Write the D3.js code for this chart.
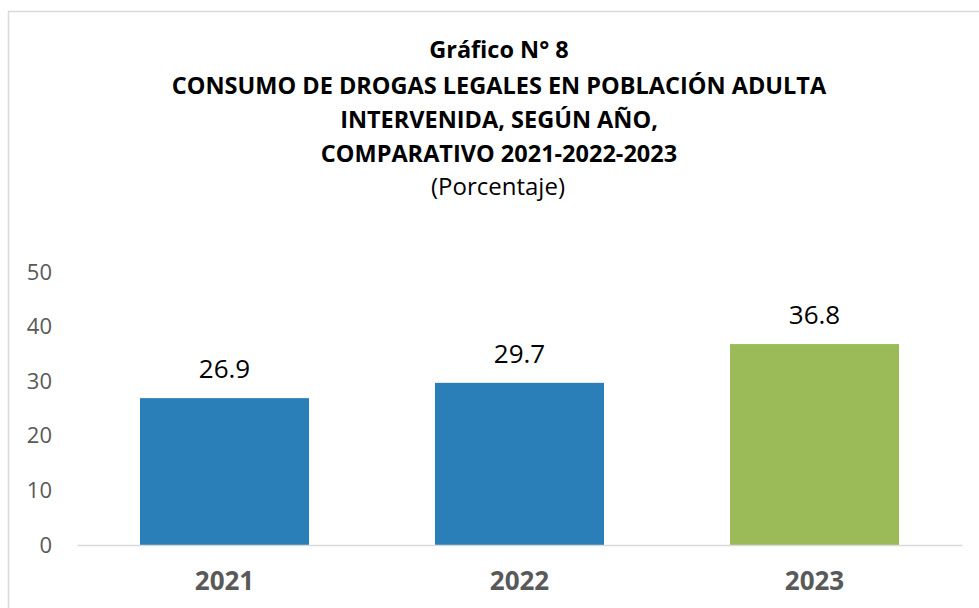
<!DOCTYPE html>
<meta charset="utf-8">
<style>
  body { margin: 0; background: #fff; }
  svg { display: block; font-family: "Open Sans", Lato, sans-serif; }
</style>
<body>
<svg width="979" height="608"></svg>
<script src="https://d3js.org/d3.v7.min.js"></script>
<script>

var years = ["2021", "2022", "2023"];
var values = [26.9, 29.7, 36.8];
var barColors = ["#2b7fb8", "#2b7fb8", "#9bbb59"];
var yTicks = [0, 10, 20, 30, 40, 50];
var titleLines = [
  "Gráfico N° 8",
  "CONSUMO DE DROGAS LEGALES EN POBLACIÓN ADULTA",
  "INTERVENIDA, SEGÚN AÑO,",
  "COMPARATIVO 2021-2022-2023"
];
var subtitle = "(Porcentaje)";

var svg = d3.select("svg"),
    width = +svg.attr("width"),
    height = +svg.attr("height");

// chart frame (right/bottom edges fall outside the picture)
svg.append("rect")
    .attr("x", 8.5).attr("y", 11.5)
    .attr("width", 1000).attr("height", 700)
    .attr("fill", "none")
    .attr("stroke", "#d9d9d9")
    .attr("stroke-width", 1.5);

var x = d3.scaleBand()
    .domain(years)
    .range([77, 962])
    .paddingInner(0.427)
    .paddingOuter(0.2135);

var y = d3.scaleLinear()
    .domain([0, 50])
    .range([545, 272]);

// title
var title = svg.append("g").attr("text-anchor", "middle");
var baselines = [58, 94, 128, 162];
titleLines.forEach(function(t, i) {
  title.append("text")
      .attr("x", 499).attr("y", baselines[i])
      .attr("font-size", 23.5).attr("font-weight", "bold")
      .attr("fill", "#000")
      .text(t);
});
title.append("text")
    .attr("x", 498).attr("y", 195)
    .attr("font-size", 24)
    .attr("fill", "#000")
    .text(subtitle);

// y axis labels
var yAxis = svg.append("g")
    .attr("transform", "translate(52,0)")
    .call(d3.axisLeft(y).tickValues(yTicks).tickSize(0).tickPadding(0));
yAxis.select(".domain").remove();
yAxis.selectAll("text")
    .attr("font-family", "'Open Sans', Lato, sans-serif")
    .attr("font-size", 22)
    .attr("fill", "#595959");

// bars
svg.append("g").selectAll("rect")
  .data(values)
  .enter().append("rect")
    .attr("x", function(d, i) { return x(years[i]); })
    .attr("y", function(d) { return y(d); })
    .attr("width", x.bandwidth())
    .attr("height", function(d) { return y(0) - y(d); })
    .attr("fill", function(d, i) { return barColors[i]; });

// x axis
var xAxis = svg.append("g")
    .attr("transform", "translate(0," + y(0) + ")")
    .call(d3.axisBottom(x).tickSize(0).tickPadding(27));
xAxis.select(".domain")
    .attr("stroke", "#d9d9d9")
    .attr("stroke-width", 1.5);
xAxis.selectAll("text")
    .attr("font-family", "'Open Sans', Lato, sans-serif")
    .attr("font-size", 26)
    .attr("font-weight", "bold")
    .attr("fill", "#595959");

// value labels
svg.append("g").selectAll("text")
  .data(values)
  .enter().append("text")
    .attr("x", function(d, i) { return x(years[i]) + x.bandwidth() / 2; })
    .attr("y", function(d) { return y(d) - 20; })
    .attr("text-anchor", "middle")
    .attr("font-size", 26)
    .attr("fill", "#000")
    .text(function(d) { return d.toFixed(1); });

</script>
</body>
